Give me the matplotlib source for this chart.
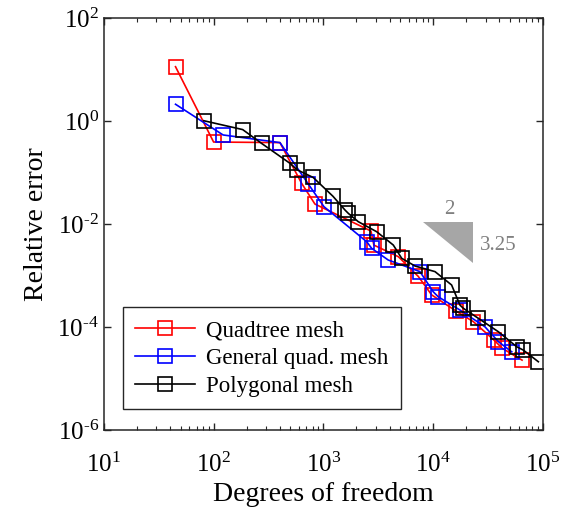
import numpy as np
import matplotlib
matplotlib.use('Agg')
import matplotlib.pyplot as plt
from matplotlib.ticker import LogLocator, NullLocator, NullFormatter, FuncFormatter

plt.rcParams['font.family'] = 'Liberation Serif'
plt.rcParams['mathtext.fontset'] = 'custom'
plt.rcParams['mathtext.rm'] = 'Liberation Serif'
plt.rcParams['mathtext.it'] = 'Liberation Serif:italic'
plt.rcParams['axes.unicode_minus'] = False

# quadtree mesh
quad_dof = [45, 100, 402, 632, 837, 2710, 2880, 4810, 7310, 9680, 16100, 23200, 35700, 42700, 64400]
quad_err = [11.3, 0.39, 0.38, 0.062, 0.0244, 0.0073, 0.0039, 0.00232, 0.00096, 0.00042,
            0.000205, 0.000127, 5.6e-5, 3.85e-5, 2.28e-5]

# general quadrilateral mesh
gen_dof = [45, 122, 402, 727, 1011, 2480, 2750, 3890, 7570, 10000, 11100, 17500, 29600, 39200, 51900]
gen_err = [2.11, 0.535, 0.38, 0.06, 0.0217, 0.00453, 0.00337, 0.0020, 0.00119, 0.000484,
           0.000387, 0.000214, 0.000101, 5.2e-5, 3.3e-5]

# polygonal mesh
poly_dof = [81.5, 184, 274, 495, 580, 807, 1222, 1571, 1690, 2075, 3055, 4330, 5160, 6820,
            10380, 14700, 17500, 18800, 25700, 39200, 57500, 66100, 90600]
poly_err = [1.01, 0.68, 0.366, 0.151, 0.112, 0.080, 0.0345, 0.0187, 0.016, 0.0111, 0.00708,
            0.0039, 0.00216, 0.00153, 0.00119, 0.000655, 0.000267, 0.000231, 0.000148,
            8.1e-5, 4.15e-5, 3.57e-5, 2.12e-5]

# slope triangle
tri_x = [8020, 23200, 23200]
tri_y = [0.0111, 0.0111, 0.00177]


def pow10(v, pos):
    e = int(round(np.log10(v)))
    if e < 0:
        return r'10$^{\text{-}%d}$' % (-e)
    return r'10$^{%d}$' % e


fig = plt.figure(figsize=(5.61, 5.12), dpi=100)
ax = fig.add_axes([0.185, 0.16, 0.783, 0.805])

mk = dict(marker='s', markersize=9.5, markerfacecolor='none', markeredgewidth=1.2, linewidth=1.2)
ax.loglog(quad_dof, quad_err, color='#ff0000', label='Quadtree mesh', **mk)
ax.loglog(gen_dof, gen_err, color='#0000ff', label='General quad. mesh', **mk)
ax.loglog(poly_dof, poly_err, color='#000000', label='Polygonal mesh', **mk)

ax.fill(tri_x, tri_y, color='#a6a6a6', linewidth=0)
ax.text(13900, 0.0187, '2', color='#808080', fontsize=15, ha='center', va='center')
ax.text(38900, 0.0039, '3.25', color='#808080', fontsize=15, ha='center', va='center')

ax.set_xlim(10, 1e5)
ax.set_ylim(1e-6, 1e2)
ax.set_yticks([1e-6, 1e-4, 1e-2, 1e0, 1e2])
ax.yaxis.set_minor_locator(NullLocator())
ax.xaxis.set_major_locator(LogLocator(base=10))
ax.xaxis.set_minor_locator(LogLocator(base=10, subs=np.arange(2, 10)))
ax.xaxis.set_minor_formatter(NullFormatter())
ax.xaxis.set_major_formatter(FuncFormatter(pow10))
ax.yaxis.set_major_formatter(FuncFormatter(pow10))

ax.tick_params(which='both', direction='in', top=True, right=True, labelsize=18, color='#262626')
ax.tick_params(which='major', length=5, width=1.0)
ax.tick_params(which='minor', length=3, width=0.8)
ax.tick_params(axis='x', pad=16)
for s in ax.spines.values():
    s.set_linewidth(1.1)
    s.set_color('#262626')

ax.set_xlabel('Degrees of freedom', fontsize=20, labelpad=4)
ax.set_ylabel('Relative error', fontsize=20, labelpad=6)

leg = ax.legend(loc='lower left', bbox_to_anchor=(0.043, 0.05), fontsize=16.5, fancybox=False,
                edgecolor='#262626', framealpha=1, borderaxespad=0, handlelength=2.6,
                borderpad=0.55, labelspacing=0.3, handletextpad=0.5)
leg.get_frame().set_linewidth(1.0)

plt.savefig('out.png', dpi=100)
